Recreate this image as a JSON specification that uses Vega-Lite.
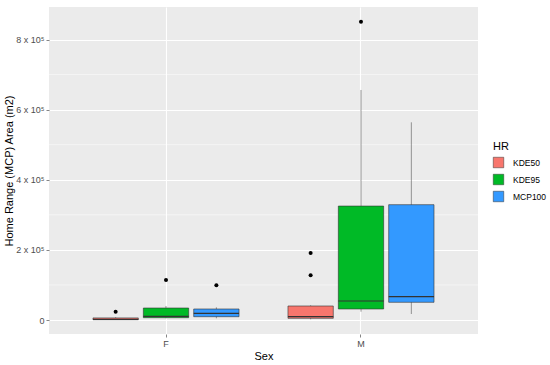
{
  "$schema": "https://vega.github.io/schema/vega-lite/v6.json",
  "width": 429,
  "height": 327,
  "autosize": {"type": "none"},
  "padding": {"left": 49, "top": 7, "right": 72, "bottom": 31},
  "background": "white",
  "config": {
    "view": {"fill": "#EBEBEB", "stroke": null},
    "font": "Liberation Sans",
    "axis": {
      "domain": false,
      "gridColor": "white",
      "gridWidth": 1.1,
      "tickColor": "#333333",
      "tickSize": 3,
      "tickWidth": 0.6,
      "labelColor": "#4D4D4D",
      "labelFontSize": 9,
      "labelFont": "Liberation Sans",
      "titleFont": "Liberation Sans",
      "titleFontSize": 11,
      "titleFontWeight": "normal",
      "titleColor": "black",
      "labelPadding": 2
    }
  },
  "datasets": {
    "boxes": [
      {"Sex": "F", "HR": "KDE50", "lower": 200, "q1": 800, "median": 2000, "q3": 6000, "upper": 8000},
      {"Sex": "F", "HR": "KDE95", "lower": 5000, "q1": 6600, "median": 10600, "q3": 34200, "upper": 40000},
      {"Sex": "F", "HR": "MCP100", "lower": 4800, "q1": 9400, "median": 19100, "q3": 31400, "upper": 36200},
      {"Sex": "M", "HR": "KDE50", "lower": 2000, "q1": 4800, "median": 9400, "q3": 40000, "upper": 42000},
      {"Sex": "M", "HR": "KDE95", "lower": 23700, "q1": 31400, "median": 54200, "q3": 325000, "upper": 656000},
      {"Sex": "M", "HR": "MCP100", "lower": 17100, "q1": 50500, "median": 66500, "q3": 328900, "upper": 563800}
    ],
    "outliers": [
      {"Sex": "F", "HR": "KDE50", "value": 23700},
      {"Sex": "F", "HR": "KDE95", "value": 114000},
      {"Sex": "F", "HR": "MCP100", "value": 99000},
      {"Sex": "M", "HR": "KDE50", "value": 191000},
      {"Sex": "M", "HR": "KDE50", "value": 127500},
      {"Sex": "M", "HR": "KDE95", "value": 850800}
    ],
    "minor": [{"v": 100000}, {"v": 300000}, {"v": 500000}, {"v": 700000}]
  },
  "encoding": {
    "x": {
      "field": "Sex",
      "type": "nominal",
      "scale": {"domain": ["F", "M"], "paddingInner": 0.251, "paddingOuter": 0.2256},
      "axis": {"labelAngle": 0, "bandPosition": 0.5, "grid": true, "title": "Sex", "titlePadding": 2, "labelFontSize": 9}
    }
  },
  "layer": [
    {
      "data": {"name": "minor"},
      "mark": {"type": "rule", "color": "white", "strokeWidth": 0.5},
      "encoding": {
        "x": null,
        "y": {"field": "v", "type": "quantitative"}
      }
    },
    {
      "data": {"name": "boxes"},
      "mark": {"type": "rule", "color": "#555555", "strokeWidth": 0.6},
      "encoding": {
        "xOffset": {"field": "HR", "type": "nominal", "scale": {"domain": ["KDE50", "KDE95", "MCP100"], "paddingInner": 0.1}},
        "y": {
          "field": "lower",
          "type": "quantitative",
          "scale": {"domain": [-39900, 892700], "nice": false, "zero": false},
          "axis": {
            "values": [0, 200000, 400000, 600000, 800000],
            "labelExpr": "datum.value == 0 ? '0' : (datum.value / 100000) + ' x 10⁵'",
            "title": "Home Range (MCP) Area (m2)",
            "titlePadding": 1
          }
        },
        "y2": {"field": "upper"}
      }
    },
    {
      "data": {"name": "boxes"},
      "mark": {"type": "bar", "stroke": "#333333", "strokeWidth": 0.6, "opacity": 1},
      "encoding": {
        "xOffset": {"field": "HR", "type": "nominal"},
        "y": {"field": "q1", "type": "quantitative"},
        "y2": {"field": "q3"},
        "color": {
          "field": "HR",
          "type": "nominal",
          "scale": {"domain": ["KDE50", "KDE95", "MCP100"], "range": ["#F8766D", "#00BA26", "#3399FF"]},
          "legend": {
            "title": "HR",
            "orient": "none",
            "legendX": 444,
            "legendY": 134,
            "titleFontSize": 11,
            "titleFontWeight": "normal",
            "titleFont": "Liberation Sans",
            "labelFont": "Liberation Sans",
            "labelFontSize": 8.5,
            "labelColor": "black",
            "symbolType": "square",
            "symbolSize": 110,
            "symbolStrokeColor": "#333333",
            "symbolStrokeWidth": 0.5,
            "symbolOpacity": 1,
            "rowPadding": 4,
            "labelOffset": 9,
            "titlePadding": 5
          }
        }
      }
    },
    {
      "data": {"name": "boxes"},
      "mark": {"type": "bar", "fill": "#333333", "stroke": "#333333", "strokeWidth": 1.2},
      "encoding": {
        "xOffset": {"field": "HR", "type": "nominal"},
        "y": {"field": "median", "type": "quantitative"},
        "y2": {"field": "median"}
      }
    },
    {
      "data": {"name": "outliers"},
      "mark": {"type": "circle", "color": "black", "size": 16, "opacity": 1},
      "encoding": {
        "xOffset": {"field": "HR", "type": "nominal"},
        "y": {"field": "value", "type": "quantitative"}
      }
    }
  ]
}
